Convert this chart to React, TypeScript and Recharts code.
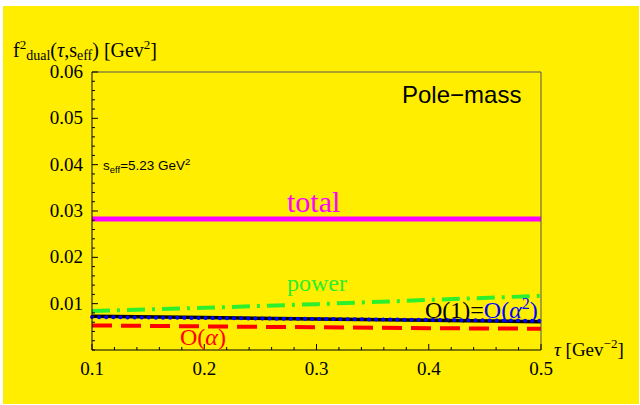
import React from 'react';
import { LineChart, Line, XAxis, YAxis } from 'recharts';

const tau = [0.1, 0.2, 0.3, 0.4, 0.5];
const totalVals = [0.0283, 0.0283, 0.0283, 0.0283, 0.0283];
const powerVals = [0.0084, 0.0091, 0.0099, 0.0108, 0.0117];
const order1Vals = [0.0073, 0.0070, 0.0067, 0.0064, 0.0061];
const alpha2Vals = [0.0071, 0.0069, 0.0067, 0.0065, 0.0063];
const alphaVals = [0.0053, 0.0051, 0.0049, 0.0047, 0.0046];

const xMajor = [0.1, 0.2, 0.3, 0.4, 0.5];
const xTickLabels = ['0.1', '0.2', '0.3', '0.4', '0.5'];
const yMajor = [0.01, 0.02, 0.03, 0.04, 0.05, 0.06];
const yTickLabels = ['0.01', '0.02', '0.03', '0.04', '0.05', '0.06'];

// minor ticks every 0.02 on x and 0.002 on y
const xTicks = Array.from({ length: 21 }, (_, i) => Math.round((0.1 + i * 0.02) * 1000) / 1000);
const yTicks = Array.from({ length: 31 }, (_, i) => Math.round(i * 0.002 * 10000) / 10000);

const data = tau.map((t, i) => ({
  tau: t,
  total: totalVals[i],
  power: powerVals[i],
  order1: order1Vals[i],
  alpha2: alpha2Vals[i],
  alpha: alphaVals[i],
}));

const SERIF = '"Liberation Serif", "Times New Roman", serif';
const SANS = '"Liberation Sans", Arial, sans-serif';

const findMajor = (list: number[], v: number) => list.findIndex(m => Math.abs(m - v) < 1e-9);

const XTick = (props: any) => {
  const { x, y, payload } = props;
  const idx = findMajor(xMajor, payload.value);
  return (
    <g>
      <line x1={x} x2={x} y1={y} y2={y - (idx >= 0 ? 6 : 3)} stroke="#000" strokeWidth={1} />
      {idx >= 0 && (
        <text x={x} y={y + 25} textAnchor="middle" fontFamily={SERIF} fontSize={19} fill="#000">
          {xTickLabels[idx]}
        </text>
      )}
    </g>
  );
};

const YTick = (props: any) => {
  const { x, y, payload } = props;
  const idx = findMajor(yMajor, payload.value);
  return (
    <g>
      <line x1={x} x2={x + (idx >= 0 ? 6 : 3)} y1={y} y2={y} stroke="#000" strokeWidth={1} />
      {idx >= 0 && (
        <text x={x - 9} y={y + 6} textAnchor="end" fontFamily={SERIF} fontSize={19} fill="#000">
          {yTickLabels[idx]}
        </text>
      )}
    </g>
  );
};

export default function App() {
  return (
    <div style={{ position: 'absolute', left: 0, top: 0, width: 640, height: 405, background: '#fff', overflow: 'hidden' }}>
      <div style={{ position: 'absolute', left: 3, top: 6, width: 636, height: 398, background: '#FFEE00' }} />
      <div style={{ position: 'absolute', left: 0, top: 0 }}>
        <LineChart width={640} height={405} data={data} margin={{ top: 62, right: 89, bottom: 25, left: 52 }}>
          <XAxis
            dataKey="tau"
            type="number"
            domain={[0.1, 0.5]}
            ticks={xTicks}
            interval={0}
            height={30}
            tickSize={0}
            tickMargin={0}
            tickLine={false}
            tick={<XTick />}
            axisLine={{ stroke: '#000', strokeWidth: 1 }}
          />
          <XAxis
            xAxisId="top"
            orientation="top"
            type="number"
            domain={[0.1, 0.5]}
            height={10}
            tick={false}
            tickLine={false}
            axisLine={{ stroke: '#555', strokeWidth: 1 }}
          />
          <YAxis
            type="number"
            domain={[0, 0.06]}
            ticks={yTicks}
            interval={0}
            width={40}
            tickSize={0}
            tickMargin={0}
            tickLine={false}
            tick={<YTick />}
            axisLine={{ stroke: '#000', strokeWidth: 1 }}
          />
          <YAxis
            yAxisId="right"
            orientation="right"
            type="number"
            domain={[0, 0.06]}
            width={10}
            tick={false}
            tickLine={false}
            axisLine={{ stroke: '#555', strokeWidth: 1 }}
          />
          <Line type="linear" dataKey="order1" stroke="#000" strokeWidth={3.5} dot={false} isAnimationActive={false} />
          <Line type="linear" dataKey="alpha2" stroke="#0000ff" strokeWidth={4} strokeDasharray="0.1 7" strokeLinecap="round" dot={false} isAnimationActive={false} />
          <Line type="linear" dataKey="alpha" stroke="#ff0000" strokeWidth={4} strokeDasharray="20 9" dot={false} isAnimationActive={false} />
          <Line type="linear" dataKey="power" stroke="#2cf02c" strokeWidth={4} strokeDasharray="18 7 3 7" dot={false} isAnimationActive={false} />
          <Line type="linear" dataKey="total" stroke="#ff00ff" strokeWidth={5} dot={false} isAnimationActive={false} />
        </LineChart>
      </div>
      <svg width={640} height={405} style={{ position: 'absolute', left: 0, top: 0, pointerEvents: 'none' }}>
        <text x={13} y={57} fontFamily={SERIF} fontSize={20} fill="#000">
          f<tspan fontSize={13} dy={-8}>2</tspan>
          <tspan fontSize={14} dy={11}>dual</tspan>
          <tspan dy={-3}>(</tspan>
          <tspan fontStyle="italic">τ</tspan>,s
          <tspan fontSize={14} dy={3}>eff</tspan>
          <tspan dy={-3}>) [Gev</tspan>
          <tspan fontSize={13} dy={-8}>2</tspan>
          <tspan dy={8}>]</tspan>
        </text>
        <text x={402} y={103} fontFamily={SANS} fontSize={24} fill="#000">Pole−mass</text>
        <text x={103} y={170} fontFamily={SANS} fontSize={13.5} fill="#000">
          s<tspan fontSize={9.5} dy={3}>eff</tspan>
          <tspan dy={-3}>=5.23 GeV</tspan>
          <tspan fontSize={9.5} dy={-5}>2</tspan>
        </text>
        <text x={287} y={212} fontFamily={SERIF} fontSize={30} fill="#ff00ff">total</text>
        <text x={287} y={291} fontFamily={SERIF} fontSize={24} fill="#2cf02c">power</text>
        <text x={425} y={318} fontFamily={SERIF} fontSize={24} fill="#000">
          O(1)=<tspan fill="#0000ff">O(<tspan fontStyle="italic">α</tspan><tspan fontSize={16} dy={-9}>2</tspan><tspan dy={9}>)</tspan></tspan>
        </text>
        <text x={180} y={345} fontFamily={SERIF} fontSize={24} fill="#ff0000">
          O(<tspan fontStyle="italic">α</tspan>)
        </text>
        <text x={554} y={356} fontFamily={SERIF} fontSize={19} fill="#000">
          <tspan fontStyle="italic">τ</tspan> [Gev<tspan fontSize={13} dy={-8}>−2</tspan>
          <tspan dy={8}>]</tspan>
        </text>
      </svg>
    </div>
  );
}
